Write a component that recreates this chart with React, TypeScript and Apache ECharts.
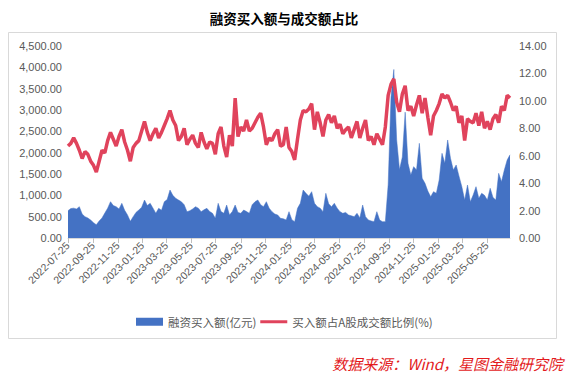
import React, { useEffect, useRef } from "react";
import * as echarts from "echarts";

// Weekly observations starting 2022-07-25
const startYear = 2022;
const startMonth = 7;
const startDay = 25;
const stepDays = 7;

// 融资买入额(亿元) — weekly readings
const buyAmount = [
  640, 690, 700, 680, 734, 560, 500, 470, 420, 360,
  310, 400, 470, 585, 700, 850, 760, 734, 680, 813,
  650, 540, 390, 500, 600, 656, 720, 890, 760, 813,
  700, 578, 695, 650, 850, 900, 1125, 1000, 930, 890,
  850, 780, 617, 640, 680, 734, 700, 617, 660, 695,
  620, 578, 461, 813, 620, 578, 773, 540, 620, 773,
  600, 578, 656, 620, 578, 780, 850, 890, 780, 734,
  850, 700, 617, 560, 540, 461, 450, 422, 617, 430,
  383, 695, 813, 1125, 1047, 980, 1086, 813, 734, 700,
  617, 1047, 800, 734, 813, 700, 617, 578, 600, 540,
  520, 500, 578, 470, 773, 500, 422, 400, 383, 617,
  420, 383, 383, 1250, 3300, 3950, 2300, 1600, 1900, 2950,
  1750, 1477, 1672, 1594, 2219, 1400, 1282, 1100, 968, 1086,
  1047, 1360, 1985, 1750, 2297, 1868, 1594, 1711, 1450, 1203,
  890, 1242, 850, 1008, 1203, 930, 1047, 1000, 890, 1165,
  950, 890, 1516, 1320, 1594, 1828, 1950,
];

// 买入额占A股成交额比例(%) — weekly readings
const buyRatio = [
  6.7, 6.9, 7.3, 6.9, 6.4, 5.8, 6.3, 6.1, 5.6, 5.3,
  4.8, 5.6, 6.4, 6.2, 7.1, 7.7, 7.2, 6.7, 7.4, 7.9,
  7.0, 6.4, 5.6, 6.6, 6.9, 7.1, 7.8, 8.5, 7.7, 7.1,
  7.6, 8.0, 7.3, 7.7, 8.2, 8.7, 9.3, 8.6, 8.2, 7.1,
  7.4, 8.0, 6.8, 7.2, 7.5, 6.9, 6.6, 7.7, 7.0, 6.5,
  7.0, 6.9, 6.1, 7.6, 8.1, 6.7, 5.9, 7.5, 6.7, 10.2,
  7.4, 8.1, 7.8, 8.6, 7.8, 8.0, 8.4, 8.8, 9.1, 8.1,
  6.8, 7.3, 7.1, 7.6, 7.9, 6.7, 6.8, 8.1, 6.6, 6.3,
  5.7, 7.2, 8.6, 9.3, 9.2, 9.4, 9.8, 7.9, 9.2, 8.4,
  7.4, 8.6, 9.0, 8.4, 8.9, 8.0, 8.3, 7.6, 7.9, 8.1,
  7.3, 7.9, 8.5, 7.3, 8.0, 8.6, 7.1, 7.4, 6.8, 7.6,
  7.2, 6.8, 8.1, 10.4, 11.2, 11.6, 9.9, 9.2, 10.5, 11.1,
  9.3, 9.6, 8.9, 9.7, 10.4, 9.1, 10.2, 8.8, 7.5, 8.9,
  9.3, 9.8, 10.5, 10.2, 10.4, 9.9, 9.3, 9.6, 8.4, 8.9,
  7.1, 8.7, 8.5, 8.4, 9.1, 8.2, 9.2, 8.0, 8.5, 7.9,
  8.7, 9.0, 8.4, 9.6, 9.3, 10.4, 10.2,
];

const tickLabels = [
  "2022-07-25", "2022-09-25", "2022-11-25", "2023-01-25", "2023-03-25",
  "2023-05-25", "2023-07-25", "2023-09-25", "2023-11-25", "2024-01-25",
  "2024-03-25", "2024-05-25", "2024-07-25", "2024-09-25", "2024-11-25",
  "2025-01-25", "2025-03-25", "2025-05-25",
];

const titleText = "融资买入额与成交额占比";
const seriesNames = ["融资买入额(亿元)", "买入额占A股成交额比例(%)"];
const sourceText = "数据来源：Wind，星图金融研究院";

const leftMin = 0, leftMax = 4500, leftStep = 500;
const rightMin = 0, rightMax = 14, rightStep = 2;

const BLUE = "#4472C4";
const RED = "#E0435C";
const LABEL = "#595959";
const FONT = "'Liberation Sans', 'Noto Sans CJK SC', sans-serif";
const CJK = "'Noto Sans CJK SC', sans-serif";
const LINE_ICON = "path://M0,0L0,0M0,2.5L27,2.5L27,5.5L0,5.5ZM27,8L27,8";

function dateAt(i: number): number {
  return new Date(startYear, startMonth - 1, startDay + stepDays * i).getTime();
}
function parseDay(s: string): number {
  const [y, m, d] = s.split("-").map(Number);
  return new Date(y, m - 1, d).getTime();
}
function fmtDay(ts: number): string {
  const d = new Date(ts);
  const p = (n: number) => (n < 10 ? "0" + n : "" + n);
  return d.getFullYear() + "-" + p(d.getMonth() + 1) + "-" + p(d.getDate());
}

export default function App() {
  const ref = useRef<HTMLDivElement>(null);
  useEffect(() => {
    if (!ref.current) return;
    const chart = echarts.init(ref.current, null, { renderer: "svg" });
    const amountData = buyAmount.map((v, i) => [dateAt(i), v]);
    const ratioData = buyRatio.map((v, i) => [dateAt(i), v]);
    const tickValues = tickLabels.map(parseDay);
    chart.setOption({
      animation: false,
      backgroundColor: "#ffffff",
      grid: { left: 68, right: 58, top: 46, bottom: 139, containLabel: false },
      graphic: [
        {
          type: "rect",
          shape: { x: 8.5, y: 32.5, width: 548, height: 306 },
          style: { fill: "none", stroke: "#d9d9d9", lineWidth: 1 },
          silent: true,
          z: -1,
        },
        {
          type: "text",
          x: 284,
          y: 18,
          style: {
            text: titleText,
            fontSize: 13.5,
            fontWeight: "bold",
            fontFamily: CJK,
            fill: "#000000",
            align: "center",
            verticalAlign: "middle",
          },
        },
        {
          type: "text",
          x: 563,
          y: 363,
          style: {
            text: sourceText,
            fontSize: 15,
            fontStyle: "italic",
            fontFamily: CJK,
            fill: "#E31A1C",
            align: "right",
            verticalAlign: "middle",
          },
        },
      ],
      legend: {
        left: 131,
        top: 311,
        itemWidth: 27,
        itemHeight: 8,
        itemGap: 4,
        textStyle: { color: LABEL, fontSize: 11.5, fontFamily: CJK },
        data: [
          { name: seriesNames[0], icon: "rect" },
          { name: seriesNames[1], icon: LINE_ICON },
        ],
      },
      xAxis: {
        type: "value",
        min: dateAt(0),
        max: dateAt(buyAmount.length - 1),
        axisLine: { show: true, lineStyle: { color: "#d9d9d9" } },
        axisTick: {
          show: true,
          customValues: tickValues,
          length: 5,
          lineStyle: { color: "#bfbfbf" },
        },
        axisLabel: {
          customValues: tickValues,
          rotate: 45,
          margin: 6,
          color: LABEL,
          fontSize: 10.5,
          fontFamily: FONT,
          showMinLabel: true,
          showMaxLabel: true,
          formatter: (v: number) => fmtDay(v),
        },
        splitLine: { show: false },
      },
      yAxis: [
        {
          type: "value",
          min: leftMin,
          max: leftMax,
          interval: leftStep,
          axisLine: { show: false },
          axisTick: { show: false },
          splitLine: { show: false },
          axisLabel: {
            color: LABEL,
            fontSize: 11,
            fontFamily: FONT,
            margin: 6,
            formatter: (v: number) =>
              v.toLocaleString("en-US", { minimumFractionDigits: 2, maximumFractionDigits: 2 }),
          },
        },
        {
          type: "value",
          min: rightMin,
          max: rightMax,
          interval: rightStep,
          axisLine: { show: false },
          axisTick: { show: false },
          splitLine: { show: false },
          axisLabel: {
            color: LABEL,
            fontSize: 11,
            fontFamily: FONT,
            margin: 9,
            formatter: (v: number) => v.toFixed(2),
          },
        },
      ],
      series: [
        {
          name: seriesNames[0],
          type: "line",
          yAxisIndex: 0,
          data: amountData,
          symbol: "none",
          lineStyle: { width: 0.5, color: BLUE },
          itemStyle: { color: BLUE },
          areaStyle: { color: BLUE, opacity: 1 },
          z: 1,
        },
        {
          name: seriesNames[1],
          type: "line",
          yAxisIndex: 1,
          data: ratioData,
          symbol: "none",
          lineStyle: { width: 3.5, color: RED },
          itemStyle: { color: RED },
          z: 2,
        },
      ],
    });
    return () => chart.dispose();
  }, []);
  return (
    <div
      ref={ref}
      style={{ position: "fixed", left: 0, top: 0, width: 568, height: 377, background: "#fff" }}
    />
  );
}
